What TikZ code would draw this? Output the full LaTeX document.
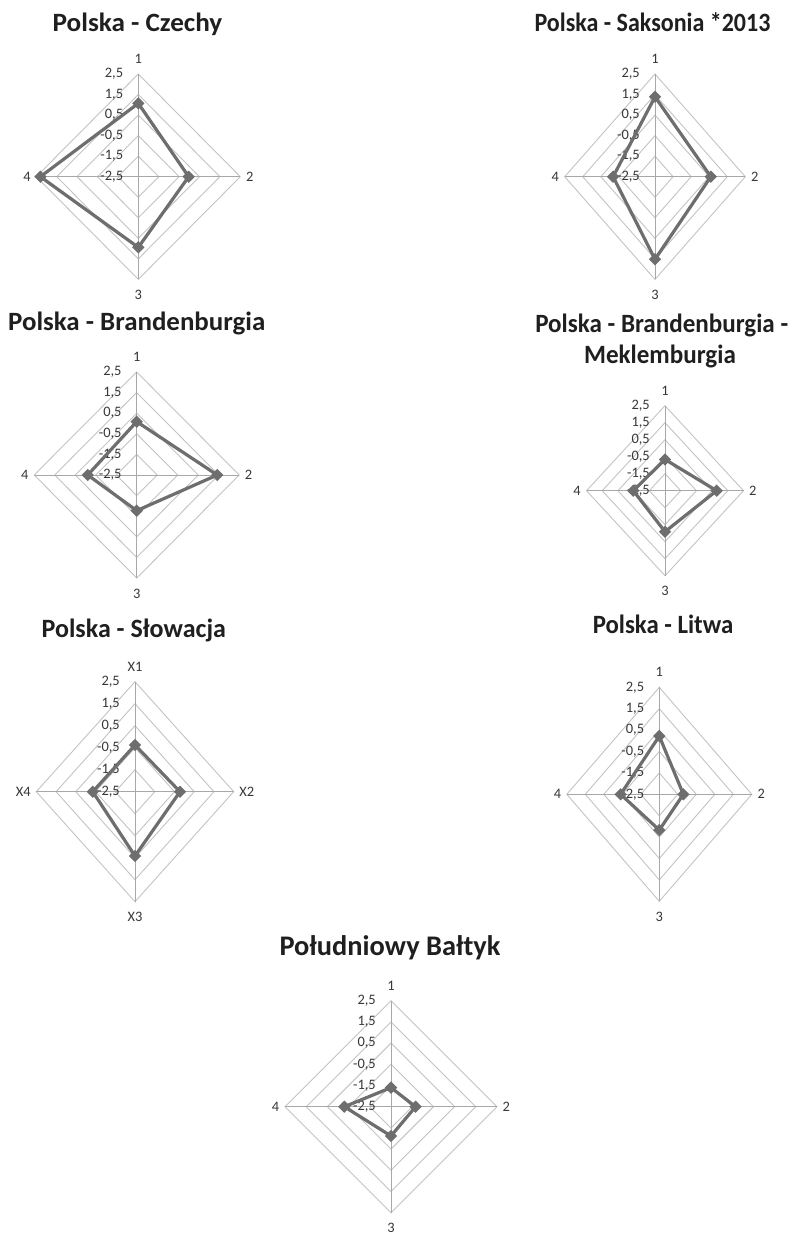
\documentclass[tikz,border=0pt]{standalone}
\usepackage{fontspec}
\setmainfont{Carlito}
\usetikzlibrary{shapes.geometric}
\definecolor{gridc}{HTML}{C4C4C4}
\definecolor{spokec}{HTML}{A8A8A8}
\definecolor{datac}{HTML}{6E6E6E}
\definecolor{labc}{HTML}{383838}
\definecolor{titlec}{HTML}{1F1F1F}
\tikzset{
  ring/.style={draw=gridc, line width=0.9bp},
  spoke/.style={draw=spokec, line width=0.9bp},
  dataline/.style={draw=datac, line width=3.2bp, line join=miter},
  marker/.style={diamond, fill=datac, inner sep=0pt, minimum width=12.5bp, minimum height=12.5bp},
  tick/.style={text=labc, font=\fontsize{14.5}{14.5}\selectfont, inner sep=0pt, anchor=east},
  axlab/.style={text=labc, font=\fontsize{14.5}{14.5}\selectfont, inner sep=0pt},
  charttitle/.style={text=titlec, font=\fontsize{26.5}{30}\selectfont\bfseries, inner sep=0pt, anchor=base},
}
% geometry of the current chart
\newcommand{\setchart}[4]{\def\Cx{#1}\def\Cy{#2}\def\Rh{#3}\def\Rv{#4}}
\newcommand{\radargrid}{%
  \foreach \k in {1,...,5}{
    \draw[ring] ({\Cx},{\Cy-\k*\Rv/5}) -- ({\Cx+\k*\Rh/5},{\Cy}) -- ({\Cx},{\Cy+\k*\Rv/5}) -- ({\Cx-\k*\Rh/5},{\Cy}) -- cycle;}
  \draw[spoke] ({\Cx},{\Cy}) -- ({\Cx},{\Cy-\Rv});
  \draw[spoke] ({\Cx},{\Cy}) -- ({\Cx+\Rh},{\Cy});
  \draw[spoke] ({\Cx},{\Cy}) -- ({\Cx},{\Cy+\Rv});
  \draw[spoke] ({\Cx},{\Cy}) -- ({\Cx-\Rh},{\Cy});
  \node[tick] at ({\Cx-15},{\Cy-5*\Rv/5}) {2,5};
  \node[tick] at ({\Cx-15},{\Cy-4*\Rv/5}) {1,5};
  \node[tick] at ({\Cx-15},{\Cy-3*\Rv/5}) {0,5};
  \node[tick] at ({\Cx-15},{\Cy-2*\Rv/5}) {-0,5};
  \node[tick] at ({\Cx-15},{\Cy-1*\Rv/5}) {-1,5};
  \node[tick] at ({\Cx-15},{\Cy}) {-2,5};
}
\newcommand{\radaraxes}[5]{%
  \node[axlab, anchor=south] (#1-a1) at ({\Cx},{\Cy-\Rv-10.5}) {#2};
  \node[axlab, anchor=west]  (#1-a2) at ({\Cx+\Rh+5.5},{\Cy}) {#3};
  \node[axlab, anchor=north] (#1-a3) at ({\Cx},{\Cy+\Rv+10.5}) {#4};
  \node[axlab, anchor=east]  (#1-a4) at ({\Cx-\Rh-5.5},{\Cy}) {#5};
}
\newcommand{\radardata}[5]{%
  \coordinate (#1-p1) at ({\Cx},{\Cy-\Rv*(#2+2.5)/5});
  \coordinate (#1-p2) at ({\Cx+\Rh*(#3+2.5)/5},{\Cy});
  \coordinate (#1-p3) at ({\Cx},{\Cy+\Rv*(#4+2.5)/5});
  \coordinate (#1-p4) at ({\Cx-\Rh*(#5+2.5)/5},{\Cy});
  \draw[dataline] (#1-p1) -- (#1-p2) -- (#1-p3) -- (#1-p4) -- cycle;
  \node[marker] (#1-m1) at (#1-p1) {};
  \node[marker] (#1-m2) at (#1-p2) {};
  \node[marker] (#1-m3) at (#1-p3) {};
  \node[marker] (#1-m4) at (#1-p4) {};
}
\begin{document}
\begin{tikzpicture}[x=1bp,y=-1bp]
\useasboundingbox (0,0) rectangle (795,1234);
\fill[white] (0,0) rectangle (795,1234);

% Chart 1
\setchart{138.3}{176.7}{102}{102.7}
\radargrid
\radaraxes{c1}{1}{2}{3}{4}
\radardata{c1}{1.07}{-0.03}{0.94}{2.3}
\node[charttitle] (t1) at (137.5,31) {\scalebox{1.03}[1]{Polska - Czechy}};

% Chart 2
\setchart{655}{176.7}{90.3}{102.7}
\radargrid
\radaraxes{c2}{1}{2}{3}{4}
\radardata{c2}{1.39}{0.59}{1.52}{-0.18}
\node[charttitle] (t2) at (652.5,31.7) {\scalebox{0.91}[1]{Polska - Saksonia *2013}};

% Chart 3
\setchart{136.7}{475}{102.5}{103}
\radargrid
\radaraxes{c3}{1}{2}{3}{4}
\radardata{c3}{0.09}{1.43}{-0.77}{-0.11}
\node[charttitle] (t3) at (136.7,330.7) {\scalebox{1.02}[1]{Polska - Brandenburgia}};

% Chart 4
\setchart{665}{490.7}{78.5}{85}
\radargrid
\radaraxes{c4}{1}{2}{3}{4}
\radardata{c4}{-0.66}{0.79}{-0.09}{-0.48}
\node[charttitle] (t4a) at (661.7,332.7) {\scalebox{0.95}[1]{Polska - Brandenburgia -}};
\node[charttitle] (t4b) at (660,363.3) {\scalebox{0.95}[1]{Meklemburgia}};

% Chart 5
\setchart{135}{791.7}{98.7}{110}
\radargrid
\radaraxes{c5}{X1}{X2}{X3}{X4}
\radardata{c5}{-0.38}{-0.22}{0.42}{-0.36}
\node[charttitle] (t5) at (133.8,637.3) {\scalebox{0.985}[1]{Polska - Słowacja}};

% Chart 6
\setchart{659.3}{794.3}{92.5}{107}
\radargrid
\radaraxes{c6}{1}{2}{3}{4}
\radardata{c6}{0.22}{-1.2}{-0.83}{-0.41}
\node[charttitle] (t6) at (663,633.3) {\scalebox{0.94}[1]{Polska - Litwa}};

% Chart 7
\setchart{391}{1106.7}{106}{106}
\radargrid
\radaraxes{c7}{1}{2}{3}{4}
\radardata{c7}{-1.6}{-1.34}{-1.12}{-0.3}
\node[charttitle, font=\fontsize{28.5}{32}\selectfont\bfseries] (t7) at (390,955) {Południowy Bałtyk};
\end{tikzpicture}
\end{document}
